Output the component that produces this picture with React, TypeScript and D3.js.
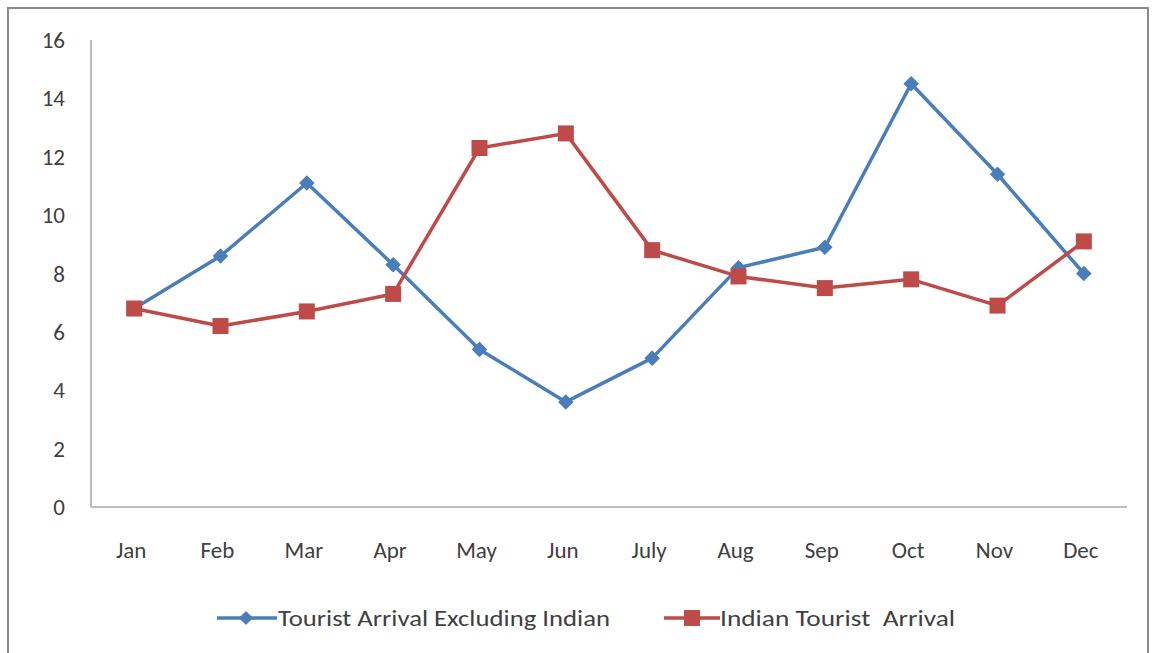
import React from "react";
import * as d3 from "d3";

const months = ["Jan", "Feb", "Mar", "Apr", "May", "Jun", "July", "Aug", "Sep", "Oct", "Nov", "Dec"];
const excludingIndian = [6.8, 8.6, 11.1, 8.3, 5.4, 3.6, 5.1, 8.2, 8.9, 14.5, 11.4, 8.0];
const indianArrival = [6.8, 6.2, 6.7, 7.3, 12.3, 12.8, 8.8, 7.9, 7.5, 7.8, 6.9, 9.1];
const yTicks = [0, 2, 4, 6, 8, 10, 12, 14, 16];

const W = 1154, H = 653;
const left = 91, right = 1127, top = 40, bottom = 507;
const blue = "#4A7EBB", red = "#BE4B48";
const font = "Carlito, Lato, 'Open Sans', sans-serif";

export default function App() {
  const x = d3.scaleBand<string>().domain(months).range([left, right]);
  const y = d3.scaleLinear().domain([0, 16]).range([bottom, top]);
  const cx = (m: string) => (x(m) as number) + x.bandwidth() / 2;
  const line = d3.line<number>().x((_, i) => cx(months[i])).y((v) => y(v));
  return (
    <svg width={W} height={H} style={{ position: "absolute", left: 0, top: 0, background: "#fff" }}>
      <rect x={8} y={8} width={1140} height={700} fill="#fff" stroke="#8a8a8a" strokeWidth={2} />
      <line x1={left} x2={left} y1={top} y2={bottom} stroke="#bdbdbd" strokeWidth={2} />
      <line x1={left} x2={right} y1={bottom} y2={bottom} stroke="#bdbdbd" strokeWidth={2} />
      {yTicks.map((t) => (
        <text key={t} x={65} y={y(t)} dy="0.35em" textAnchor="end" fontFamily={font} fontSize={23} fill="#404040">
          {t}
        </text>
      ))}
      {months.map((m) => (
        <text key={m} x={cx(m) - 3} y={550} dy="0.35em" textAnchor="middle" fontFamily={font} fontSize={23} fill="#404040">
          {m}
        </text>
      ))}
      <path d={line(excludingIndian) || ""} fill="none" stroke={blue} strokeWidth={3.5} strokeLinejoin="round" />
      <path d={line(indianArrival) || ""} fill="none" stroke={red} strokeWidth={3.5} strokeLinejoin="round" />
      {excludingIndian.map((v, i) => (
        <rect key={"b" + i} x={cx(months[i]) - 5.5} y={y(v) - 5.5} width={11} height={11} fill={blue}
          transform={`rotate(45 ${cx(months[i])} ${y(v)})`} />
      ))}
      {indianArrival.map((v, i) => (
        <rect key={"r" + i} x={cx(months[i]) - 8} y={y(v) - 8} width={16} height={16} fill={red} />
      ))}
      <g>
        <line x1={217} x2={277} y1={618} y2={618} stroke={blue} strokeWidth={3.5} />
        <rect x={241} y={613} width={10} height={10} fill={blue} transform="rotate(45 246 618)" />
        <text x={278} y={618} dy="0.35em" fontFamily={font} fontSize={23} fill="#404040"
          textLength={332} lengthAdjust="spacingAndGlyphs">Tourist Arrival Excluding Indian</text>
        <line x1={664} x2={720} y1={618} y2={618} stroke={red} strokeWidth={3.5} />
        <rect x={684} y={610} width={16} height={16} fill={red} />
        <text x={720} y={618} dy="0.35em" fontFamily={font} fontSize={23} fill="#404040" style={{ whiteSpace: "pre" }}
          textLength={235} lengthAdjust="spacingAndGlyphs">
          {"Indian Tourist  Arrival"}
        </text>
      </g>
    </svg>
  );
}
